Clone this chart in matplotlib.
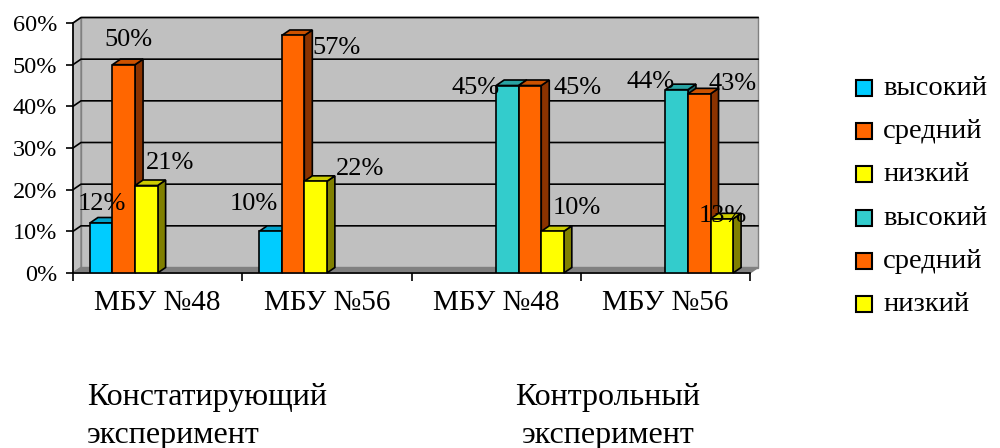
import matplotlib
matplotlib.use('Agg')
import matplotlib.pyplot as plt
from matplotlib.patches import Polygon, Rectangle

plt.rcParams['font.family'] = ['Liberation Serif', 'DejaVu Serif']

categories = ['МБУ №48', 'МБУ №56', 'МБУ №48', 'МБУ №56']
series_names = ['высокий', 'средний', 'низкий', 'высокий', 'средний', 'низкий']
# one list per series, None where the series has no bar
vysokiy_1 = [12, 10, None, None]
sredniy_1 = [50, 57, None, None]
nizkiy_1 = [21, 22, None, None]
vysokiy_2 = [None, None, 45, 44]
sredniy_2 = [None, None, 45, 43]
nizkiy_2 = [None, None, 10, 13]
series = [vysokiy_1, sredniy_1, nizkiy_1, vysokiy_2, sredniy_2, nizkiy_2]
yticks = [0, 10, 20, 30, 40, 50, 60]
group_titles = ['Констатирующий\nэксперимент', 'Контрольный\nэксперимент']

front = ['#00CCFF', '#FF6600', '#FFFF00', '#33CCCC', '#FF6600', '#FFFF00']
top = ['#00A3CC', '#CC5200', '#CCCC00', '#29A3A3', '#CC5200', '#CCCC00']
side = ['#006680', '#8B3300', '#808000', '#1A6666', '#8B3300', '#808000']

# label offsets in pixels from the top centre of each bar (Excel 3D placement)
label_dx = [[1, -17, 0, 0], [5, 43, 0, 0], [24, 44, 0, 0],
            [0, 0, -32, -26], [0, 0, 48, 33], [0, 0, 24, 1]]
label_dy = [[13, 21, 0, 0], [19, -18, 0, 0], [17, 6, 0, 0],
            [0, 0, -8, 2], [0, 0, -8, 4], [0, 0, 17, -3]]

fig = plt.figure(figsize=(10, 4.48), dpi=100)
ax = fig.add_axes([0.073, 175 / 448, 0.677, 250 / 448])
ax.set_xlim(-0.5, 3.5)
ax.set_ylim(0, 60)
ax.set_facecolor('none')

dx = 8 / 169.25
dy = 5.5 / 250 * 60

# back wall, side wall, floor
ax.add_patch(Polygon([(-0.5 + dx, dy), (3.5 + dx, dy), (3.5 + dx, 60 + dy), (-0.5 + dx, 60 + dy)],
                     closed=True, fc='#C0C0C0', ec='#808080', lw=1, zorder=0.5, clip_on=False))
ax.add_patch(Polygon([(-0.5, 0), (-0.5 + dx, dy), (-0.5 + dx, 60 + dy), (-0.5, 60)],
                     closed=True, fc='#C0C0C0', ec='#808080', lw=1, zorder=0.5, clip_on=False))
for v in yticks[1:]:
    ax.plot([-0.5, -0.5 + dx, 3.5 + dx], [v, v + dy, v + dy], color='black', lw=1.2,
            zorder=1, clip_on=False)
ax.add_patch(Polygon([(-0.5, 0), (3.5, 0), (3.5 + dx, dy), (-0.5 + dx, dy)],
                     closed=True, fc='#808080', ec='#808080', lw=1, zorder=1.5, clip_on=False))

w = 0.8 / 6
for i, vals in enumerate(series):
    xs = [c - 0.4 + w * (i + 0.5) for c in range(len(categories)) if vals[c] is not None]
    hs = [v for v in vals if v is not None]
    cidx = [c for c in range(len(categories)) if vals[c] is not None]
    ax.bar(xs, hs, width=w, color=front[i], edgecolor='black', linewidth=1.2, zorder=3 + i)
    for x, h, c in zip(xs, hs, cidx):
        r = x + w / 2
        l = x - w / 2
        ax.add_patch(Polygon([(r, 0), (r + dx, dy), (r + dx, h + dy), (r, h)], closed=True,
                             fc=side[i], ec='black', lw=1.2, zorder=2.9 + i, clip_on=False))
        ax.add_patch(Polygon([(l, h), (l + dx, h + dy), (r + dx, h + dy), (r, h)], closed=True,
                             fc=top[i], ec='black', lw=1.2, zorder=2.9 + i, clip_on=False))
        ax.annotate(f'{h}%', (x, h), xytext=(label_dx[i][c], label_dy[i][c]),
                    textcoords='offset pixels', ha='center', va='baseline',
                    fontsize=19, zorder=20, annotation_clip=False)

for s in ['top', 'right']:
    ax.spines[s].set_visible(False)
ax.spines['left'].set_linewidth(1.2)
ax.spines['bottom'].set_linewidth(1.2)
ax.spines['left'].set_zorder(2)
ax.spines['bottom'].set_zorder(2)

ax.set_yticks(yticks)
ax.set_yticklabels([f'{v}%' for v in yticks], fontsize=17.5)
ax.tick_params(axis='y', direction='out', length=5, width=1.2, pad=6.5)
ax.set_xticks([-0.5, 0.5, 1.5, 2.5, 3.5])
ax.set_xticklabels([])
ax.tick_params(axis='x', which='major', direction='out', length=6, width=1.2)
ax.set_xticks(range(len(categories)), minor=True)
ax.set_xticklabels(categories, minor=True, fontsize=21)
ax.tick_params(axis='x', which='minor', length=0, pad=12)

# legend drawn by hand to match the Excel layout
for k, name in enumerate(series_names):
    yc = 88 + 43.2 * k
    fig.patches.append(Rectangle((856 / 1000, 1 - (yc + 8) / 448), 16 / 1000, 16 / 448,
                                 transform=fig.transFigure, fc=front[k], ec='black', lw=1.5))
    fig.text(883 / 1000, 1 - (yc + 7) / 448, name, fontsize=20.5, ha='left', va='baseline')

# group captions
fig.text(87 / 1000, 1 - 405 / 448, group_titles[0].split('\n')[0], fontsize=23, ha='left', va='baseline')
fig.text(87 / 1000, 1 - 443 / 448, group_titles[0].split('\n')[1], fontsize=23, ha='left', va='baseline')
fig.text(608 / 1000, 1 - 405 / 448, group_titles[1].split('\n')[0], fontsize=23, ha='center', va='baseline')
fig.text(608 / 1000, 1 - 443 / 448, group_titles[1].split('\n')[1], fontsize=23, ha='center', va='baseline')

fig.savefig('out.png', dpi=100)
